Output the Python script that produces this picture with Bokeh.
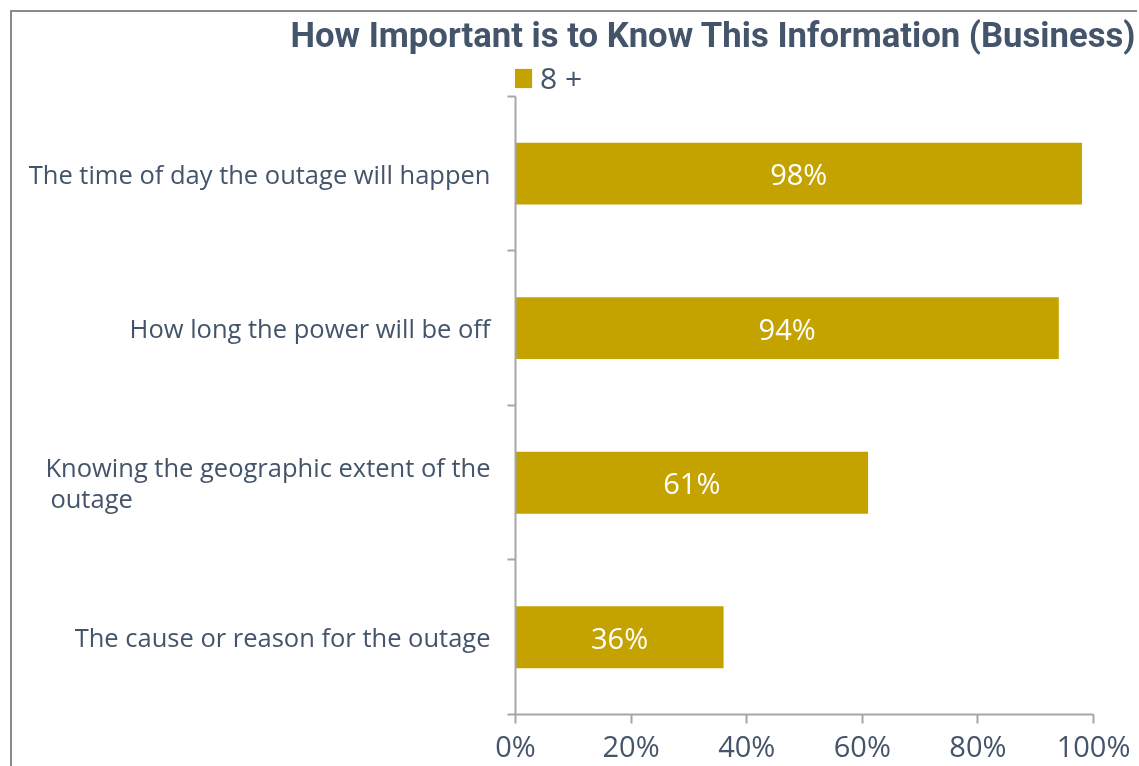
from bokeh.plotting import figure
from bokeh.models import (FixedTicker, NumeralTickFormatter, Legend, LegendItem,
                          ColumnDataSource, Range1d, Title)
from bokeh.core.properties import value
from bokeh.embed import file_html
from bokeh.resources import INLINE

# ---- data ----
categories = [
    "The time of day the outage will happen",
    "How long the power will be off",
    "Knowing the geographic extent of the\noutage",
    "The cause or reason for the outage",
]
values = [0.98, 0.94, 0.61, 0.36]
series_name = "8 +"
title_text = "How Important is to Know This Information (Business)"
x_ticks = [0, 0.2, 0.4, 0.6, 0.8, 1.0]

BAR = "#C4A300"
TXT = "#44546A"
AX = "#A3A7AB"
FONT = "Open Sans"
NBSP = "\u00a0"

n = len(categories)
ys = [n - i - 0.5 for i in range(n)]
labels_txt = [f"{round(v*100)}%" for v in values]
src = ColumnDataSource(dict(y=ys, right=values, mid=[v / 2 for v in values], lab=labels_txt))


def axis_label(c):
    # wrapped labels are left-aligned in the reference: pad the short line
    if "\n" in c:
        a, b = c.split("\n")
        return a + "\n" + b + NBSP * 54
    return c


# frame: y from 0 to n holds the bars; a little headroom above holds the legend
head = 0.2714
W, H = 1127, 762
p = figure(width=W, height=H, output_backend="svg", toolbar_location=None, title=None,
           x_range=Range1d(0, 1), y_range=Range1d(0, n + head),
           min_border_left=503, min_border_right=46, min_border_top=41, min_border_bottom=60)
p.styles = {"position": "fixed", "left": "10px", "top": "10px",
            "border-left": "2px solid #8a8a8a", "border-top": "2px solid #8a8a8a"}
p.outline_line_color = None
p.xgrid.grid_line_color = None
p.ygrid.grid_line_color = None
p.background_fill_color = "white"
p.border_fill_color = "white"

r = p.hbar(y="y", right="right", left=0, height=0.4, source=src,
           fill_color=BAR, line_color=None)

p.text(x="mid", y="y", text="lab", source=src, text_align="center", text_baseline="middle",
       text_color="white", text_font=value(FONT), text_font_size="29px")

# x axis
xa = p.xaxis[0]
xa.ticker = FixedTicker(ticks=x_ticks)
xa.formatter = NumeralTickFormatter(format="0%")
xa.axis_line_color = AX
xa.axis_line_width = 2
xa.major_tick_line_color = AX
xa.major_tick_line_width = 2
xa.major_tick_out = 9
xa.major_tick_in = 0
xa.minor_tick_line_color = None
xa.major_label_text_font = FONT
xa.major_label_text_font_size = "29px"
xa.major_label_text_color = TXT
xa.major_label_standoff = 2

# y axis: labels at category centres, ticks at category boundaries
ya = p.yaxis[0]
ya.bounds = (0, n)
ya.ticker = FixedTicker(ticks=ys, minor_ticks=list(range(n + 1)))
ya.major_label_overrides = {y: axis_label(c) for y, c in zip(ys, categories)}
ya.axis_line_color = AX
ya.axis_line_width = 2
ya.major_tick_line_color = None
ya.major_tick_out = 0
ya.major_tick_in = 0
ya.minor_tick_line_color = AX
ya.minor_tick_line_width = 2
ya.minor_tick_out = 8
ya.minor_tick_in = 0
ya.major_label_text_font = FONT
ya.major_label_text_font_size = "25.5px"
ya.major_label_text_color = TXT
ya.major_label_text_line_height = 0.9
ya.major_label_standoff = 17

# legend in the headroom above the bars
legend = Legend(items=[LegendItem(label=series_name, renderers=[r])],
                location=(-5, 616), orientation="horizontal",
                glyph_width=24, glyph_height=24, label_standoff=6,
                padding=0, margin=0, border_line_color=None, background_fill_alpha=0,
                label_text_font=FONT, label_text_font_size="30px", label_text_color=TXT)
p.add_layout(legend)

# title
p.add_layout(Title(text=title_text, align="left", offset=-225, standoff=0,
                   text_font="Roboto", text_font_style="bold", text_font_size="34.7px",
                   text_color=TXT), "above")

open("out.html", "w").write(file_html(p, INLINE))
